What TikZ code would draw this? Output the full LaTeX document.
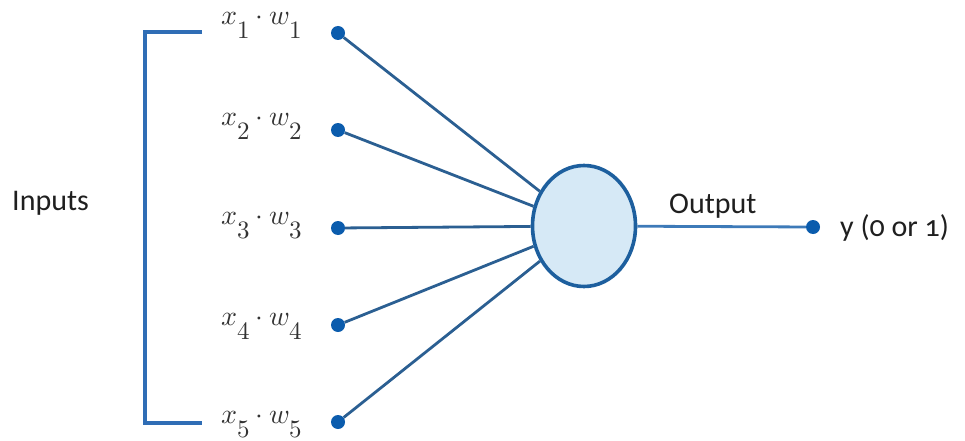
\documentclass[tikz,border=0pt]{standalone}
\usepackage{fontspec}
\setmainfont{Carlito}[Numbers=OldStyle]
\newfontfamily\lmmfont{Latin Modern Math}
\usetikzlibrary{shapes.geometric}
\definecolor{dotblue}{HTML}{0B5CAD}
\definecolor{linkblue}{HTML}{2B5F92}
\definecolor{brblue}{HTML}{2F6DB5}
\definecolor{cellfill}{HTML}{D6E9F6}
\definecolor{cellline}{HTML}{1D5F9E}
\definecolor{outblue}{HTML}{3D7AB8}
\definecolor{labgray}{HTML}{333333}
\newcommand\xwsub[1]{\raisebox{-14pt}{\fontsize{25}{26}\selectfont #1}}
\newcommand\xwlab[1]{{\lmmfont\fontsize{28}{30}\selectfont 𝑥\xwsub{#1}\hspace{6pt}⋅\hspace{6pt}𝑤\xwsub{#1}}}
\tikzset{
  indot/.style={circle, fill=dotblue, minimum size=14pt, inner sep=0pt},
  link/.style={draw=linkblue, line width=2.8pt},
  bracketline/.style={draw=brblue, line width=3.5pt},
  cell/.style={ellipse, draw=cellline, fill=cellfill, line width=3.6pt, minimum width=103pt, minimum height=121pt, inner sep=0pt},
  wlab/.style={anchor=base west, inner sep=0pt, text=labgray},
  stext/.style={anchor=base west, inner sep=0pt, text=black!88, font=\fontsize{30}{34}\selectfont},
}
\begin{document}
\begin{tikzpicture}[x=1pt, y=-1pt]
\useasboundingbox (0,0) rectangle (965,441);
% bracket
\coordinate (b1) at (202,32);
\coordinate (b2) at (145,32);
\coordinate (b3) at (145,423);
\coordinate (b4) at (202,423);
\draw[bracketline] (b1) -- (b2) -- (b3) -- (b4);
% neuron
\node[cell] (neuron) at (584,226) {};
% input dots
\node[indot] (d1) at (338,33) {};
\node[indot] (d2) at (338,130) {};
\node[indot] (d3) at (338,228) {};
\node[indot] (d4) at (338,325) {};
\node[indot] (d5) at (338,422) {};
\foreach \i in {1,...,5} \draw[link] (d\i) -- (neuron);
% output
\node[indot] (out) at (813,227) {};
\draw[draw=outblue, line width=2.8pt] (neuron) -- (out);
% labels
\node[wlab] (l1) at (221,25) {\xwlab{1}};
\node[wlab] (l2) at (221,125) {\xwlab{2}};
\node[wlab] (l3) at (221,224) {\xwlab{3}};
\node[wlab] (l4) at (221,325) {\xwlab{4}};
\node[wlab] (l5) at (221,423) {\xwlab{5}};
\node[stext] (inputs) at (12,210) {Inputs};
\node[stext] (output) at (669,213) {Output};
\node[stext] (yval) at (840,236) {y (0 or 1)};
\end{tikzpicture}
\end{document}
